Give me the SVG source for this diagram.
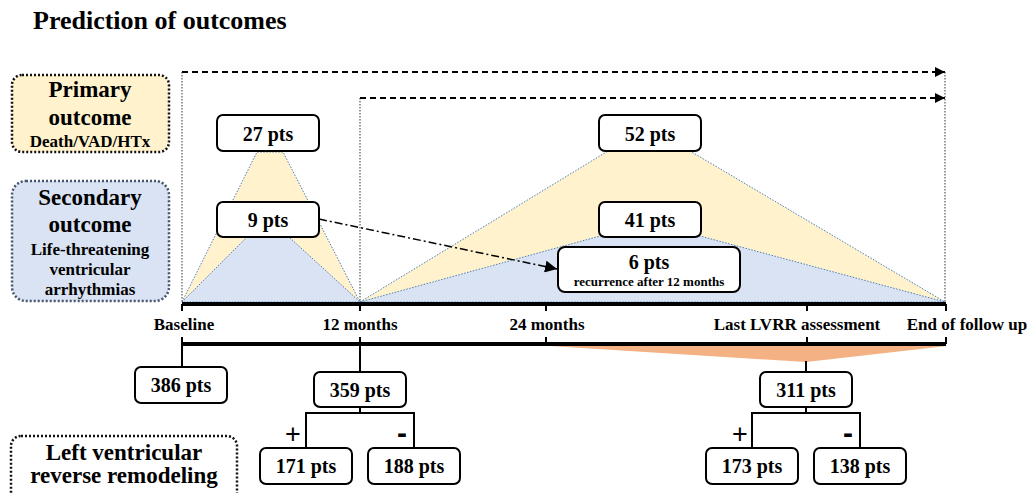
<svg xmlns="http://www.w3.org/2000/svg" width="1031" height="493" viewBox="0 0 1031 493">
<style>
.t{font-family:"Liberation Serif","Times New Roman",serif;font-weight:bold;fill:#000;text-anchor:middle}
.box{fill:#fff;stroke:#000;stroke-width:2}
.ln{stroke:#000;stroke-width:2;fill:none}
.vd{stroke:#555;stroke-width:1.2;stroke-dasharray:1.5 1.5;fill:none}
.tri{stroke:#4a7ebb;stroke-width:1;stroke-dasharray:1.5 1.5}
.sans{font-family:"Liberation Sans",Arial,sans-serif;fill:#000;text-anchor:middle}
</style>
<defs>
<marker id="ah" viewBox="0 0 10 10" refX="10" refY="5" markerWidth="10" markerHeight="10" markerUnits="userSpaceOnUse" orient="auto">
<path d="M0,0 L10,5 L0,10 Z" fill="#000"/>
</marker>
<marker id="ah2" viewBox="0 0 10 10" refX="10" refY="5" markerWidth="12" markerHeight="12" markerUnits="userSpaceOnUse" orient="auto">
<path d="M0,0 L10,5 L0,10 Z" fill="#000"/>
</marker>
</defs>

<text x="33" y="29" class="t" style="text-anchor:start;font-size:26px">Prediction of outcomes</text>

<g id="legend-primary">
<rect x="12" y="75" width="157" height="77" rx="10" fill="#fff2cc" stroke="#111" stroke-width="2.5" stroke-dasharray="2 2"/>
<text x="90" y="97" class="t" style="font-size:23px">Primary</text>
<text x="90" y="125" class="t" style="font-size:23px">outcome</text>
<text x="90" y="147" class="t" style="font-size:17px">Death/VAD/HTx</text>
</g>

<g id="legend-secondary">
<rect x="12" y="181" width="157" height="120" rx="14" fill="#dae3f3" stroke="#44546a" stroke-width="2.5" stroke-dasharray="2 2"/>
<text x="90" y="205" class="t" style="font-size:23px">Secondary</text>
<text x="90" y="232" class="t" style="font-size:23px">outcome</text>
<text x="90" y="255" class="t" style="font-size:17px">Life-threatening</text>
<text x="90" y="275" class="t" style="font-size:17px">ventricular</text>
<text x="90" y="295" class="t" style="font-size:17px">arrhythmias</text>
</g>

<g id="legend-lvrr">
<rect x="11" y="436" width="226" height="70" rx="10" fill="#fff" stroke="#111" stroke-width="2.5" stroke-dasharray="2 2"/>
<text x="124" y="460" class="t" style="font-size:23px">Left ventricular</text>
<text x="124" y="483" class="t" style="font-size:23px">reverse remodeling</text>
</g>

<g id="areas">
<polygon points="182,302 257,152 283,152 360,302" fill="#fff2cc" class="tri"/>
<polygon points="182,302 247,237 289,237 360,302" fill="#dae3f3" class="tri"/>
<polygon points="360,302 608,151 690,151 945,302" fill="#fff2cc" class="tri"/>
<polygon points="360,302 600,236 700,236 945,302" fill="#dae3f3" class="tri"/>
<polygon points="550,346 947,346 806,362" fill="#f4b183"/>
</g>

<g id="connectors">
<line x1="182" y1="72" x2="182" y2="302" class="vd"/>
<line x1="360" y1="98" x2="360" y2="302" class="vd"/>
<line x1="945" y1="72" x2="945" y2="302" class="vd"/>
<line x1="182" y1="72" x2="945" y2="72" stroke="#000" stroke-width="2" stroke-dasharray="6 4" marker-end="url(#ah)"/>
<line x1="360" y1="98" x2="945" y2="98" stroke="#000" stroke-width="2" stroke-dasharray="6 4" marker-end="url(#ah)"/>
<line x1="319" y1="219" x2="557" y2="269" stroke="#000" stroke-width="1.5" stroke-dasharray="8 3 2 3" marker-end="url(#ah2)"/>
<line x1="182" y1="304" x2="946" y2="304" stroke="#000" stroke-width="4"/>
<path d="M182,304V311 M360,304V311 M546,304V311 M807,304V311 M946,304V311" class="ln"/>
<line x1="182" y1="344" x2="946" y2="344" stroke="#000" stroke-width="4"/>
<path d="M182,337V344 M360,337V344 M546,337V344 M807,337V344 M946,337V344" class="ln"/>
<path d="M182,344V367 M360,344V372 M806,361V372" class="ln"/>
<path d="M360,407V413 M306,448V413H414V448" class="ln"/>
<path d="M806,407V413 M752,448V413H860V448" class="ln"/>
</g>

<g id="timeline-labels">
<text x="184" y="330" class="t" style="font-size:17px">Baseline</text>
<text x="360" y="330" class="t" style="font-size:17px">12 months</text>
<text x="547" y="330" class="t" style="font-size:17px">24 months</text>
<text x="797" y="330" class="t" style="font-size:17px">Last LVRR assessment</text>
<text x="967" y="330" class="t" style="font-size:17px">End of follow up</text>
</g>

<g id="n27"><rect x="217" y="115" width="102" height="36" rx="6" class="box"/><text x="268" y="141" class="t" style="font-size:20px">27 pts</text></g>
<g id="n9"><rect x="217" y="202" width="102" height="35" rx="6" class="box"/><text x="268" y="227" class="t" style="font-size:20px">9 pts</text></g>
<g id="n52"><rect x="599" y="115" width="102" height="36" rx="6" class="box"/><text x="650" y="141" class="t" style="font-size:20px">52 pts</text></g>
<g id="n41"><rect x="599" y="202" width="102" height="35" rx="6" class="box"/><text x="650" y="227" class="t" style="font-size:20px">41 pts</text></g>
<g id="n6"><rect x="558" y="247" width="182" height="45" rx="7" class="box"/><text x="649" y="269" class="t" style="font-size:20px">6 pts</text><text x="649" y="286" class="t" style="font-size:13px">recurrence after 12 months</text></g>

<g id="n386"><rect x="135" y="367" width="92" height="36" rx="6" class="box"/><text x="181" y="392" class="t" style="font-size:20px">386 pts</text></g>
<g id="n359"><rect x="314" y="372" width="92" height="35" rx="6" class="box"/><text x="360" y="397" class="t" style="font-size:20px">359 pts</text></g>
<g id="n171"><rect x="260" y="448" width="92" height="36" rx="6" class="box"/><text x="306" y="473" class="t" style="font-size:20px">171 pts</text></g>
<g id="n188"><rect x="368" y="448" width="92" height="36" rx="6" class="box"/><text x="414" y="473" class="t" style="font-size:20px">188 pts</text></g>
<g id="n311"><rect x="760" y="372" width="92" height="35" rx="6" class="box"/><text x="806" y="397" class="t" style="font-size:20px">311 pts</text></g>
<g id="n173"><rect x="706" y="448" width="92" height="36" rx="6" class="box"/><text x="752" y="473" class="t" style="font-size:20px">173 pts</text></g>
<g id="n138"><rect x="814" y="448" width="92" height="36" rx="6" class="box"/><text x="860" y="473" class="t" style="font-size:20px">138 pts</text></g>

<g id="signs">
<text x="293" y="443" class="sans" style="font-size:27px">+</text>
<text x="402" y="443" class="sans" style="font-size:30px;font-weight:bold">-</text>
<text x="740" y="443" class="sans" style="font-size:27px">+</text>
<text x="848" y="443" class="sans" style="font-size:30px;font-weight:bold">-</text>
</g>
</svg>
